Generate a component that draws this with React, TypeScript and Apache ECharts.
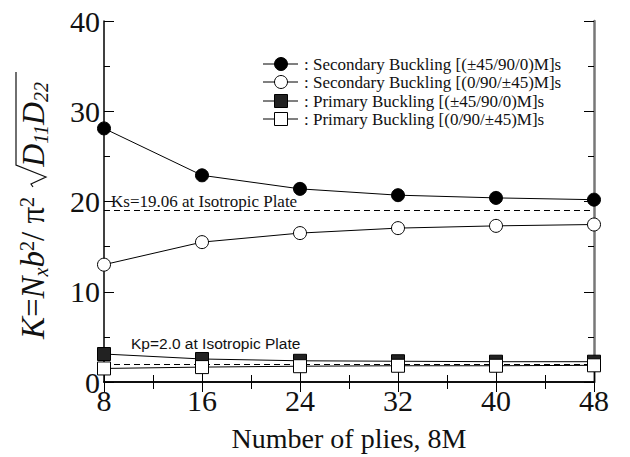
import React, { useEffect, useRef } from "react";
import * as echarts from "echarts";

const plies = [8, 16, 24, 32, 40, 48];
const secondaryA = [28.1, 22.9, 21.4, 20.7, 20.4, 20.2];
const secondaryB = [13.0, 15.5, 16.5, 17.05, 17.3, 17.45];
const primaryA = [3.1, 2.55, 2.35, 2.3, 2.25, 2.25];
const primaryB = [1.5, 1.65, 1.75, 1.8, 1.8, 1.85];
const ksValue = 19.06;
const kpValue = 2.0;
const seriesNames = [
  ": Secondary Buckling [(±45/90/0)M]s",
  ": Secondary Buckling [(0/90/±45)M]s",
  ": Primary Buckling [(±45/90/0)M]s",
  ": Primary Buckling [(0/90/±45)M]s",
];
const xTitle = "Number of plies, 8M";
const ksLabel = "Ks=19.06 at Isotropic Plate";
const kpLabel = "Kp=2.0 at Isotropic Plate";
const yTitleLeft = "{i|K}{r|=}{i|N}{sub|x}{i|b}{sup|2}{r|/ π}{sup|2}";
const yTitleRoot = "{i|D}{sub|11}{i|D}{sub|22}";

const SERIF = "Liberation Serif";
const SANS = "Liberation Sans";

export default function App() {
  const ref = useRef<HTMLDivElement>(null);
  useEffect(() => {
    if (!ref.current) return;
    const chart = echarts.init(ref.current, null, { renderer: "svg" });
    const pair = (ys: number[]) => plies.map((x, i) => [x, ys[i]]);
    const symbols = [
      { symbol: "circle", fill: "#000" },
      { symbol: "circle", fill: "#fff" },
      { symbol: "rect", fill: "#222" },
      { symbol: "rect", fill: "#fff" },
    ];
    const values = [secondaryA, secondaryB, primaryA, primaryB];
    const order = [0, 1, 3, 2];
    const series: any[] = order.map((k) => ({
      name: seriesNames[k],
      type: "line",
      data: pair(values[k]),
      symbol: symbols[k].symbol,
      symbolSize: 13,
      lineStyle: { color: "#000", width: 1 },
      itemStyle: { color: symbols[k].fill, borderColor: "#000", borderWidth: 1 },
      z: 3 + k,
    }));
    series.push({
      type: "line",
      data: [],
      markLine: {
        silent: true,
        symbol: "none",
        label: { show: false },
        lineStyle: { color: "#000", type: [6, 4], width: 1 },
        data: [{ yAxis: ksValue }, { yAxis: kpValue }],
      },
    });

    const legendGraphics: any[] = [];
    const rowsY = [64, 82, 101, 119];
    for (let i = 0; i < 4; i++) {
      const y = rowsY[i];
      legendGraphics.push({
        type: "line",
        shape: { x1: 263, y1: y, x2: 298, y2: y },
        style: { stroke: "#000", lineWidth: 1 },
      });
      if (symbols[i].symbol === "circle") {
        legendGraphics.push({
          type: "circle",
          shape: { cx: 281, cy: y, r: 6.5 },
          style: { fill: symbols[i].fill, stroke: "#000", lineWidth: 1 },
        });
      } else {
        legendGraphics.push({
          type: "rect",
          shape: { x: 274.5, y: y - 6.5, width: 13, height: 13 },
          style: { fill: symbols[i].fill, stroke: "#000", lineWidth: 1 },
        });
      }
      legendGraphics.push({
        type: "text",
        x: 304,
        y: y,
        style: {
          text: "{t|" + seriesNames[i] + "}",
          fill: "#111",
          verticalAlign: "middle",
          rich: { t: { fontFamily: SERIF, fontSize: 17, lineHeight: 17, fill: "#111" } },
        },
      });
    }

    const mathRich = (main: number, small: number) => ({
      i: { fontFamily: SERIF, fontStyle: "italic", fontSize: main, lineHeight: 40, verticalAlign: "middle", fill: "#111" },
      r: { fontFamily: SERIF, fontSize: main, lineHeight: 40, verticalAlign: "middle", fill: "#111" },
      sub: { fontFamily: SERIF, fontStyle: "italic", fontSize: small, lineHeight: small, verticalAlign: "bottom", padding: [0, 0, 2, 0], fill: "#111" },
      sup: { fontFamily: SERIF, fontSize: small, lineHeight: small, verticalAlign: "top", padding: [4, 0, 0, 0], fill: "#111" },
    });

    const option: any = {
      animation: false,
      backgroundColor: "#fff",
      grid: { left: 104, right: 36, top: 21, bottom: 73 },
      xAxis: [
        {
          type: "value",
          min: 8,
          max: 48,
          interval: 8,
          name: xTitle,
          nameLocation: "middle",
          nameGap: 42,
          nameTextStyle: { fontFamily: SERIF, fontSize: 28, color: "#111" },
          axisLine: { lineStyle: { color: "#000", width: 1.5 } },
          axisTick: { inside: true, length: 10, lineStyle: { color: "#000" } },
          minorTick: { show: true, splitNumber: 2, length: 7, lineStyle: { color: "#000" } },
          axisLabel: { fontFamily: SERIF, fontSize: 30, color: "#111", margin: 3 },
          splitLine: { show: false },
        },
        {
          type: "value",
          position: "top",
          min: 8,
          max: 48,
          interval: 8,
          axisLine: { show: true, lineStyle: { color: "#000", width: 1.5 } },
          axisTick: { inside: true, length: 10, lineStyle: { color: "#000" } },
          minorTick: { show: true, splitNumber: 2, length: 7, lineStyle: { color: "#000" } },
          axisLabel: { show: false },
          splitLine: { show: false },
        },
      ],
      yAxis: [
        {
          type: "value",
          min: 0,
          max: 40,
          interval: 10,
          axisLine: { show: true, lineStyle: { color: "#000", width: 1.5 } },
          axisTick: { show: true, inside: true, length: 10, lineStyle: { color: "#000" } },
          minorTick: { show: true, splitNumber: 2, length: 6, lineStyle: { color: "#000" } },
          axisLabel: { fontFamily: SERIF, fontSize: 30, color: "#111", margin: 4 },
          splitLine: { show: false },
        },
        {
          type: "value",
          position: "right",
          min: 0,
          max: 40,
          interval: 10,
          axisLine: { show: true, lineStyle: { color: "#777", width: 2.5 } },
          axisTick: { show: true, inside: true, length: 10, lineStyle: { color: "#000" } },
          minorTick: { show: true, splitNumber: 2, length: 6, lineStyle: { color: "#000" } },
          axisLabel: { show: false },
          splitLine: { show: false },
        },
      ],
      series,
      graphic: [
        ...legendGraphics,
        {
          type: "text",
          x: 111,
          y: 201,
          z: 10,
          style: {
            text: "{t|" + ksLabel + "}",
            verticalAlign: "middle",
            rich: { t: { fontFamily: SERIF, fontSize: 17, fill: "#111" } },
          },
        },
        {
          type: "text",
          x: 131,
          y: 343,
          z: 10,
          style: {
            text: "{t|" + kpLabel + "}",
            verticalAlign: "middle",
            rich: { t: { fontFamily: SANS, fontSize: 15.5, fill: "#111" } },
          },
        },
        {
          type: "text",
          x: 33,
          y: 339,
          rotation: Math.PI / 2,
          style: {
            text: yTitleLeft,
            align: "left",
            verticalAlign: "middle",
            rich: mathRich(33, 20),
          },
        },
        {
          type: "text",
          x: 33,
          y: 82,
          rotation: Math.PI / 2,
          style: {
            text: yTitleRoot,
            align: "right",
            verticalAlign: "middle",
            rich: mathRich(32, 20),
          },
        },
        {
          type: "polyline",
          shape: { points: [[33, 187], [31, 184], [46, 177], [16, 165], [16, 72]] },
          style: { stroke: "#111", lineWidth: 1.2, fill: null },
        },
      ],
    };
    chart.setOption(option);
    return () => chart.dispose();
  }, []);
  return <div ref={ref} style={{ position: "absolute", left: 0, top: 0, width: 630, height: 457 }} />;
}
